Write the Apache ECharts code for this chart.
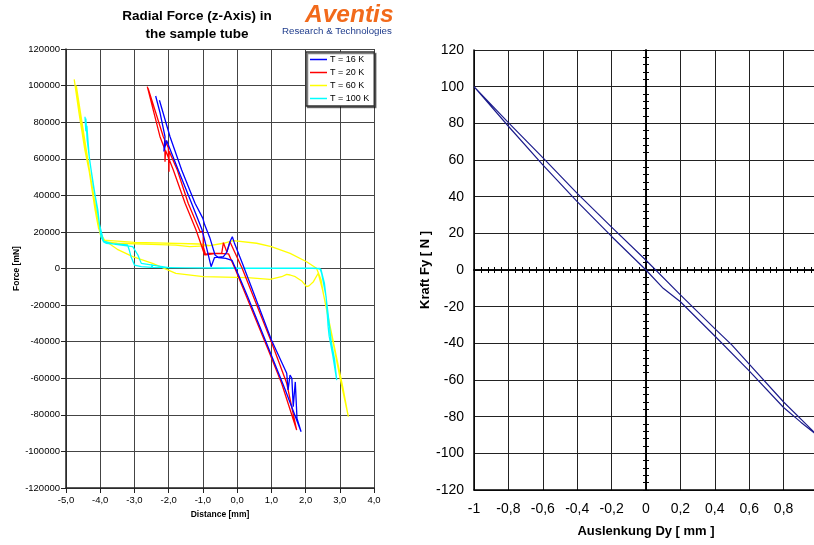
<!DOCTYPE html>
<html><head><meta charset="utf-8">
<script src="https://cdn.jsdelivr.net/npm/echarts@6/dist/echarts.min.js"></script>
<style>html,body{margin:0;padding:0;background:#fff}#c{width:814px;height:545px}</style>
</head><body><div id="c"></div>
<script>
// ---------- data: left chart (Distance [mm], Force [mN]) ----------
const seriesNames = ['T = 16 K', 'T = 20 K', 'T = 60 K', 'T = 100 K'];
const t16K = [
  [-2.38, 94300], [-2.25, 85000], [-2.107, 72050], [-2.14, 64000], [-2.06, 70000], [-1.72, 53850],
  [-1.33, 35650], [-1.03, 21500], [-0.90, 12000], [-0.76, 1000], [-0.66, 6000], [-0.40, 6500],
  [-0.30, 9000], [-0.20, 15000], [-0.14, 17400], [-0.08, 14000], [0.15, 3000], [0.45, -11750],
  [1.00, -39000], [1.45, -57300], [1.49, -66400], [1.546, -58200], [1.60, -60000], [1.64, -75500],
  [1.70, -62000], [1.75, -82000], [1.87, -89200],
  [1.40, -66000], [0.86, -40900], [0.30, -15000], [0.05, -4000], [-0.15, 4500], [-0.33, 5500],
  [-0.55, 6000], [-0.645, 7400], [-0.80, 17000], [-0.95, 24000], [-1.00, 27400], [-1.05, 27000],
  [-1.23, 35650], [-1.62, 53850], [-1.96, 72050], [-2.27, 92000]
];
const t20K = [
  [-2.624, 99400], [-2.253, 72050], [-2.11, 65000], [-2.107, 58400], [-2.09, 64500], [-1.864, 53850],
  [-1.52, 35650], [-1.20, 21000], [-1.05, 13000], [-0.95, 7400], [-0.85, 8300], [-0.45, 8300],
  [-0.40, 14100], [-0.30, 9000], [-0.21, 14650], [0.15, 0], [1.00, -40000], [1.45, -62760],
  [1.74, -88300],
  [1.30, -62760], [0.90, -44000], [-0.05, -500], [-0.25, 8000], [-0.60, 8300], [-0.92, 7400],
  [-0.99, 12000], [-0.99, 20100], [-1.08, 20100], [-1.43, 35650], [-1.747, 53850], [-1.99, 64300],
  [-1.99, 52900], [-2.01, 66000], [-2.157, 72050], [-2.60, 98500]
];
const t60K = [
  [-4.76, 103400], [-4.62, 85000], [-4.45, 65000], [-4.32, 53000], [-4.15, 32000], [-4.07, 24000],
  [-3.98, 17400], [-3.85, 14500], [-3.50, 13800], [-2.50, 13200], [-1.80, 12800], [-1.38, 12000],
  [-0.80, 12500], [-0.40, 13800], [-0.11, 15200], [0.57, 13800], [1.00, 12000], [1.55, 8300],
  [2.03, 3700], [2.32, 100], [2.45, -6000], [2.52, -13550], [2.81, -40900], [3.00, -59150],
  [3.25, -81000],
  [3.10, -66000], [2.90, -48000], [2.70, -30000], [2.50, -12000], [2.37, -2600], [2.23, -7200],
  [2.10, -9500], [2.03, -9950], [1.90, -7000], [1.70, -4500], [1.55, -3550], [1.45, -3200],
  [1.30, -4500], [0.96, -5900], [0.30, -5000], [-0.99, -4480], [-1.79, -2620], [-2.47, 2840],
  [-3.05, 6450], [-3.50, 10500], [-3.85, 15000], [-4.00, 19000], [-4.10, 30000], [-4.30, 52000],
  [-4.50, 75000], [-4.70, 100000],
  [-4.60, 88000], [-4.35, 58000], [-4.05, 22000], [-3.90, 15500], [-3.00, 14300], [-1.10, 13400],
  [-0.80, 12500]
];
const t100K = [
  [-4.445, 83000], [-4.42, 75000], [-4.39, 78000], [-4.35, 68000], [-4.32, 61000], [-4.20, 45000],
  [-4.07, 32000], [-3.98, 17400], [-3.90, 14500], [-3.83, 13800], [-3.20, 12850], [-3.15, 10000],
  [-3.10, 6450], [-3.00, 1900], [-2.80, 1000], [-2.50, 650], [-2.49, 2300], [-2.47, 600],
  [-1.50, 300], [0.00, 150], [1.50, 100], [2.20, 100], [2.42, 0], [2.47, -2600], [2.60, -15400],
  [2.66, -31800], [2.69, -37000], [2.73, -36000], [2.80, -48000], [2.91, -61000],
  [2.85, -50000], [2.75, -40000], [2.66, -25000], [2.55, -8000], [2.45, -500], [2.30, 200],
  [0.00, 300], [-2.00, 500], [-2.80, 2800], [-2.90, 7400], [-3.05, 12000], [-3.60, 13300],
  [-3.90, 15000], [-4.02, 24000], [-4.15, 40000], [-4.30, 58000], [-4.38, 70000], [-4.42, 82000]
];

// ---------- data: right chart (Auslenkung [mm], Kraft Fy [N]) ----------
const fyForward = [
  [-1.0, 100], [-0.8, 80.4], [-0.6, 61.3], [-0.4, 41.8], [-0.2, 23.4], [0.0, 5.3], [0.2, -13.6],
  [0.4, -32], [0.5, -41], [0.6, -51.3], [0.8, -72], [1.0, -90.5]
];
const fyBackward = [
  [1.0, -91], [0.9, -83], [0.8, -75], [0.6, -55], [0.4, -36], [0.2, -17.3], [0.1, -10], [0.0, 0],
  [-0.2, 18.3], [-0.4, 37.3], [-0.6, 57.3], [-0.8, 78.4], [-1.0, 100]
];

const FONT = 'Arial, "Liberation Sans", Helvetica, sans-serif';
const chart = echarts.init(document.getElementById('c'), null, {renderer: 'canvas'});

const commaFmt1 = v => v.toFixed(1).replace('.', ',');
const plainFmt = v => String(v);
const commaFmtR = v => {
  if (Math.abs(v - 1) < 1e-9) return '';
  const r = Math.round(v * 10) / 10;
  return r === 0 ? '0' : String(r).replace('.', ',');
};

function tickAxis(dim, inside, onZeroIdx) {
  const base = {
    gridIndex: 1, type: 'value',
    axisLine: {show: true, onZero: true, onZeroAxisIndex: onZeroIdx, lineStyle: {color: '#000', width: 1.5}},
    axisTick: {show: true, inside: inside, length: 3, lineStyle: {color: '#000', width: 1}},
    minorTick: {show: true, splitNumber: 5, length: 3, lineStyle: {color: '#000', width: 1}},
    axisLabel: {show: false}, splitLine: {show: false}, minorSplitLine: {show: false}
  };
  if (dim === 'x') Object.assign(base, {min: -1, max: 1, interval: 0.2, position: 'bottom'});
  else Object.assign(base, {min: -120, max: 120, interval: 20, position: 'left'});
  return base;
}

const option = {
  animation: false,
  backgroundColor: '#fff',
  title: [
    {text: 'Radial Force (z-Axis) in\nthe sample tube', left: 197, top: 7, textAlign: 'center', padding: 0,
     textStyle: {fontFamily: FONT, fontSize: 13.5, fontWeight: 'bold', color: '#000', lineHeight: 18}},
    {text: 'Aventis', left: 305, top: 3, padding: 0,
     textStyle: {fontFamily: FONT, fontSize: 24.5, fontWeight: 'bold', fontStyle: 'italic', color: '#f26a1b'}},
    {text: 'Research & Technologies', left: 282, top: 26, padding: 0,
     textStyle: {fontFamily: FONT, fontSize: 9.7, fontWeight: 'normal', color: '#1f3c8c'}}
  ],
  legend: {
    data: seriesNames, orient: 'vertical', left: 306, top: 52, icon: 'rect',
    itemWidth: 17, itemHeight: 1.5, itemGap: 4, padding: [3, 5, 3, 4],
    borderColor: '#333', borderWidth: 1.5, backgroundColor: '#fff',
    textStyle: {fontFamily: FONT, fontSize: 9, color: '#000', padding: [0, 0, 0, -2]}, z: 20,
    shadowColor: 'rgba(0,0,0,0.5)', shadowOffsetX: 1.5, shadowOffsetY: 1.5, shadowBlur: 0
  },
  grid: [
    {left: 66, top: 49, width: 308, height: 439, outerBoundsMode: 'none', containLabel: false},
    {left: 474, top: 50, width: 344, height: 440, outerBoundsMode: 'none', containLabel: false}
  ],
  xAxis: [
    {gridIndex: 0, type: 'value', min: -5, max: 4, interval: 1, position: 'bottom',
     axisLine: {onZero: false, lineStyle: {color: '#222', width: 1.5}},
     axisTick: {show: true, length: 5, lineStyle: {color: '#222'}},
     axisLabel: {fontFamily: FONT, fontSize: 9.5, color: '#000', margin: 7, formatter: commaFmt1},
     splitLine: {show: true, lineStyle: {color: '#444', width: 1}},
     name: 'Distance [mm]', nameLocation: 'middle', nameGap: 22,
     nameTextStyle: {fontFamily: FONT, fontSize: 8.5, fontWeight: 'bold', color: '#000'}},
    {gridIndex: 1, type: 'value', min: -1, max: 1, interval: 0.2, position: 'bottom',
     axisLine: {onZero: false, lineStyle: {color: '#000', width: 1.5}},
     axisTick: {show: false},
     axisLabel: {fontFamily: FONT, fontSize: 14, color: '#000', margin: 12, formatter: commaFmtR,
                 showMaxLabel: false},
     splitLine: {show: true, lineStyle: {color: '#222', width: 1}},
     name: 'Auslenkung Dy [ mm ]', nameLocation: 'middle', nameGap: 35,
     nameTextStyle: {fontFamily: FONT, fontSize: 13, fontWeight: 'bold', color: '#000'}},
    tickAxis('x', false, 1),
    tickAxis('x', true, 1)
  ],
  yAxis: [
    {gridIndex: 0, type: 'value', min: -120000, max: 120000, interval: 20000, position: 'left',
     axisLine: {onZero: false, lineStyle: {color: '#222', width: 1.5}},
     axisTick: {show: true, length: 5, lineStyle: {color: '#222'}},
     axisLabel: {fontFamily: FONT, fontSize: 9.5, color: '#000', margin: 6, formatter: plainFmt},
     splitLine: {show: true, lineStyle: {color: '#444', width: 1}},
     name: 'Force [mN]', nameLocation: 'middle', nameGap: 44,
     nameTextStyle: {fontFamily: FONT, fontSize: 8.5, fontWeight: 'bold', color: '#000'}},
    {gridIndex: 1, type: 'value', min: -120, max: 120, interval: 20, position: 'left',
     axisLine: {onZero: false, lineStyle: {color: '#000', width: 1.5}},
     axisTick: {show: false},
     axisLabel: {fontFamily: FONT, fontSize: 14, color: '#000', margin: 10},
     splitLine: {show: true, lineStyle: {color: '#222', width: 1}},
     name: 'Kraft Fy [ N ]', nameLocation: 'middle', nameGap: 42,
     nameTextStyle: {fontFamily: FONT, fontSize: 13, fontWeight: 'bold', color: '#000'}},
    tickAxis('y', false, 1),
    tickAxis('y', true, 1)
  ],
  series: [
    {name: seriesNames[2], type: 'line', xAxisIndex: 0, yAxisIndex: 0, data: t60K, symbol: 'none',
     lineStyle: {color: '#ffff00', width: 1.3}, itemStyle: {color: '#ffff00'}, z: 2},
    {name: seriesNames[3], type: 'line', xAxisIndex: 0, yAxisIndex: 0, data: t100K, symbol: 'none',
     lineStyle: {color: '#00ffff', width: 1.3}, itemStyle: {color: '#00ffff'}, z: 3},
    {name: seriesNames[1], type: 'line', xAxisIndex: 0, yAxisIndex: 0, data: t20K, symbol: 'none',
     lineStyle: {color: '#ff0000', width: 1.3}, itemStyle: {color: '#ff0000'}, z: 4},
    {name: seriesNames[0], type: 'line', xAxisIndex: 0, yAxisIndex: 0, data: t16K, symbol: 'none',
     lineStyle: {color: '#0000ff', width: 1.3}, itemStyle: {color: '#0000ff'}, z: 5},
    {name: 'Fy', type: 'line', xAxisIndex: 1, yAxisIndex: 1, data: fyForward.concat(fyBackward),
     symbol: 'none', lineStyle: {color: '#1c1c8c', width: 1.2}, itemStyle: {color: '#1c1c8c'}, z: 5}
  ]
};
chart.setOption(option);
</script>
</body></html>
